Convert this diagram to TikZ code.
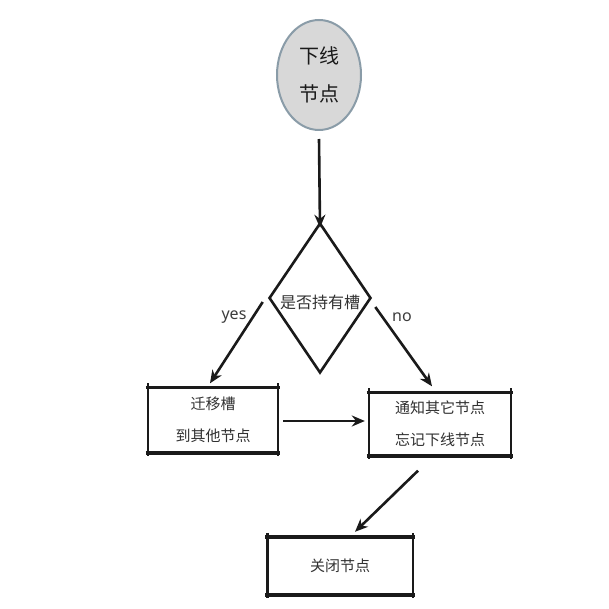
\documentclass[tikz,border=0pt]{standalone}
\usepackage{fontspec}
\setmainfont{Noto Sans}
\newfontfamily\cjk{Noto Sans CJK SC}
\usetikzlibrary{shapes.geometric,arrows.meta}
\definecolor{ellfill}{HTML}{D8D8D8}
\definecolor{elldraw}{HTML}{8A9CA8}
\definecolor{ink}{HTML}{1A1A1A}
\tikzset{
  arr/.style={draw=ink,line width=2.6pt,-{Stealth[length=13pt,width=11pt]}},
  boxnode/.style={inner sep=0pt,align=center,font=\cjk\fontsize{15}{32}\selectfont,text=ink!90},
  hedge/.style={draw=ink,line width=3.6pt},
  vedge/.style={draw=ink,line width=2.4pt},
  lbl/.style={font=\fontsize{16}{16}\selectfont,text=ink!85},
}
\newcommand\skbox[1]{%
  \draw[hedge] ([xshift=-2pt]#1.north west) -- ([xshift=2pt]#1.north east);
  \draw[hedge] ([xshift=-2pt]#1.south west) -- ([xshift=2pt]#1.south east);
  \draw[vedge] ([yshift=4pt]#1.north west) -- ([yshift=-3pt]#1.south west);
  \draw[vedge] ([yshift=4pt]#1.north east) -- ([yshift=-3pt]#1.south east);
}
\begin{document}
\begin{tikzpicture}[x=1pt,y={(0pt,-1pt)}]
\fill[white] (0,0) rectangle (609,609);
\useasboundingbox (0,0) rectangle (609,609);
\node[ellipse,draw=elldraw,line width=2pt,fill=ellfill,minimum width=84pt,minimum height=110pt,
      align=center,font=\cjk\fontsize{20}{38}\selectfont,text=ink] (start) at (319,75) {下线\\节点};
\node[diamond,draw=ink,line width=2.6pt,minimum width=102pt,minimum height=150pt,inner sep=0pt] (dia) at (320,298) {};
\node[font=\cjk\fontsize{16}{16}\selectfont,text=ink!90,fill=white,inner sep=1pt] (diatext) at (320,302) {是否持有槽};
\node[boxnode,minimum width=130pt,minimum height=65pt] (b1) at (213,420) {迁移槽\\到其他节点};
\node[boxnode,minimum width=142pt,minimum height=63pt] (b2) at (440,424) {通知其它节点\\忘记下线节点};
\node[boxnode,minimum width=145pt,minimum height=58pt] (b3) at (340,566) {关闭节点};
\skbox{b1}
\skbox{b2}
\skbox{b3}
\draw[arr] ([yshift=-8pt]start.south) -- ([yshift=-6pt]dia.north);
\draw[arr] ([shift={(-5pt,-4pt)}]dia.west) -- ([xshift=-3pt,yshift=4pt]b1.north);
\draw[arr] ([shift={(3pt,-9pt)}]dia.east) -- ([xshift=-8pt,yshift=6pt]b2.north);
\draw[arr] ([xshift=5pt,yshift=-1pt]b1.east) -- ([xshift=-4pt,yshift=-1pt]b2.west |- b1.east);
\draw[arr] ([xshift=-22pt,yshift=-15pt]b2.south) -- ([xshift=15pt,yshift=5pt]b3.north);
\node[lbl] (yes) at (234,317) {yes};
\node[lbl] (no) at (402,317) {no};
\end{tikzpicture}
\end{document}
